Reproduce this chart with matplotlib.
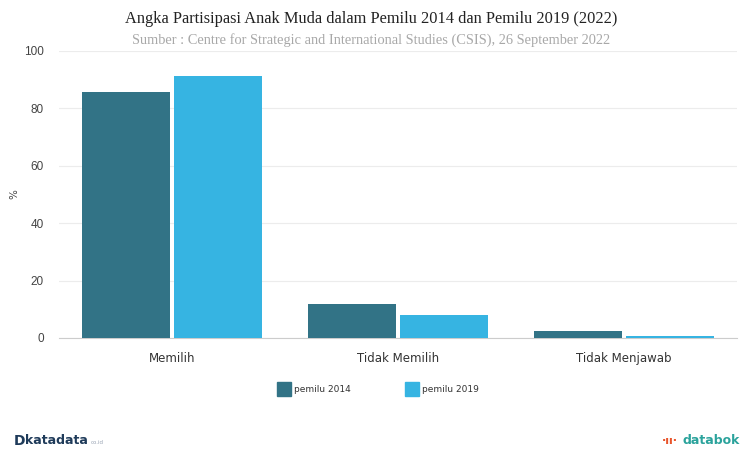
import numpy as np
import matplotlib
matplotlib.use('Agg')
from matplotlib import pyplot as plt
from matplotlib.patches import Rectangle

categories = ['Memilih', 'Tidak Memilih', 'Tidak Menjawab']
series_names = ['pemilu 2014', 'pemilu 2019']
pemilu_2014 = [85.7, 11.8, 2.4]
pemilu_2019 = [91.3, 8.0, 0.7]
yticks = [0, 20, 40, 60, 80, 100]

color_2014 = '#327386'
color_2019 = '#36b4e2'


def main():
    fig = plt.figure(figsize=(7.43, 4.5), dpi=100)
    ax = fig.add_axes([0.0794, 0.249, 0.9126, 0.6377])

    x = np.arange(len(categories))
    w = 0.39
    ax.bar(x - w / 2 - 0.01, pemilu_2014, width=w, color=color_2014, zorder=3)
    ax.bar(x + w / 2 + 0.01, pemilu_2019, width=w, color=color_2019, zorder=3)

    ax.set_xlim(-0.5, len(categories) - 0.5)
    ax.set_ylim(0, 100)
    ax.set_yticks(yticks)
    ax.set_xticks(x)
    ax.set_xticklabels(categories)
    ax.tick_params(axis='both', length=0, labelsize=8.5, colors='#333333')
    ax.tick_params(axis='x', pad=10)
    ax.tick_params(axis='y', pad=11)
    for lab in ax.get_yticklabels():
        lab.set_fontfamily('Liberation Sans')
        lab.set_color('#444444')

    ax.grid(axis='y', color='#ececec', linewidth=0.8, zorder=0)
    for s in ['top', 'right', 'left']:
        ax.spines[s].set_visible(False)
    ax.spines['bottom'].set_color('#cccccc')
    ax.spines['bottom'].set_linewidth(0.8)
    fig.text(14 / 743, 1 - 194 / 450, '%', rotation=90, ha='center', va='center',
             fontsize=7.5, color='#444444')

    # titles
    fig.text(0.5, 0.958, 'Angka Partisipasi Anak Muda dalam Pemilu 2014 dan Pemilu 2019 (2022)',
             ha='center', va='center', family='Liberation Serif', fontsize=11.8, color='#222222')
    fig.text(0.5, 0.91, 'Sumber : Centre for Strategic and International Studies (CSIS), 26 September 2022',
             ha='center', va='center', family='Liberation Serif', fontsize=10.4, color='#a8a8a8')

    # legend
    for xp, name, c in [(277, series_names[0], color_2014), (405, series_names[1], color_2019)]:
        fig.patches.append(Rectangle((xp / 743, 1 - 396 / 450), 14 / 743, 14 / 450,
                                     transform=fig.transFigure, color=c))
        fig.text((xp + 17) / 743, 1 - 389 / 450, name, ha='left', va='center',
                 fontsize=6.5, color='#333333')

    # footer marks
    fig.text(14 / 743, 1 - 441 / 450, 'D', ha='left', va='center', fontsize=10,
             fontweight='bold', color='#1f3b5a')
    fig.text(25 / 743, 1 - 441 / 450, 'katadata', ha='left', va='center', fontsize=9,
             fontweight='bold', color='#1f3b5a')
    fig.text(91 / 743, 1 - 443 / 450, 'co.id', ha='left', va='center', fontsize=4,
             color='#9aa5b5')
    fig.text(678 / 743, 1 - 441 / 450, "·ıı·", ha='right', va='center', fontsize=8,
             fontweight='bold', color='#e8542b')
    fig.text(740 / 743, 1 - 441 / 450, 'databok', ha='right', va='center', fontsize=9,
             fontweight='bold', color='#2ba39c')

    fig.savefig('out.png', dpi=100, facecolor='white')
    plt.close(fig)


if __name__ == '__main__':
    main()
